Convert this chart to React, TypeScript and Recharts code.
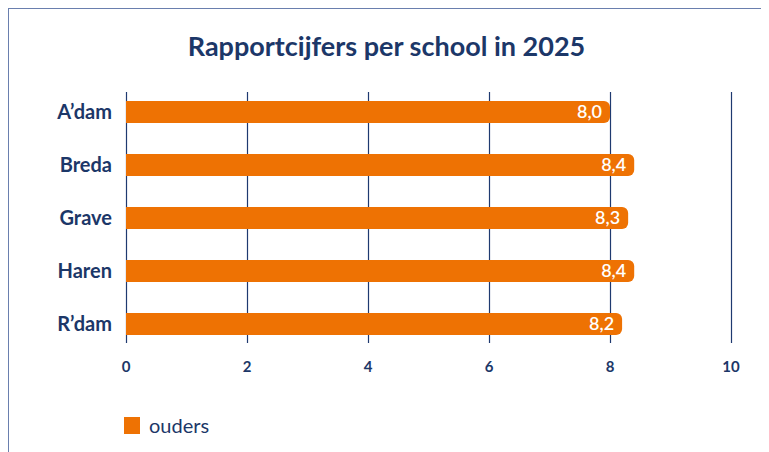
import { BarChart, Bar, XAxis, YAxis, CartesianGrid, LabelList } from "recharts"

const schools = ["A’dam", "Breda", "Grave", "Haren", "R’dam"]
const ouders = [8.0, 8.4, 8.3, 8.4, 8.2]
const xTicks = [0, 2, 4, 6, 8, 10]

const data = schools.map((name, i) => ({ name, ouders: ouders[i] }))

const navy = "#1c3768"
const orange = "#ee7203"
const font = "Lato, 'Open Sans', sans-serif"

const fmt = (v: any) => Number(v).toFixed(1).replace(".", ",")

// shorter grid lines than the plot area, like the original
const GridLine = (props: any) => (
  <line
    key={props.key}
    x1={Math.round(props.x1) + 0.5}
    x2={Math.round(props.x2) + 0.5}
    y1={props.y1 + 7}
    y2={props.y2 - 7}
    stroke="#1f3a70"
    strokeWidth={1.2}
  />
)

export default function App() {
  return (
    <div
      style={{
        position: "relative",
        width: 760,
        height: 443,
        marginLeft: -1,
        marginTop: -1,
        borderLeft: "2px solid #6a7fae",
        borderTop: "2px solid #6a7fae",
        fontFamily: font,
      }}
    >
      <div
        style={{
          position: "absolute",
          top: 21,
          left: 0,
          width: 755,
          textAlign: "center",
          fontSize: 27,
          fontWeight: 700,
          color: navy,
          lineHeight: "32px",
        }}
      >
        Rapportcijfers per school in 2025
      </div>
      <BarChart
        width={760}
        height={443}
        data={data}
        layout="vertical"
        margin={{ top: 76, right: 38, left: 0, bottom: 72 }}
      >
        <CartesianGrid horizontal={false} vertical={GridLine} />
        <XAxis
          type="number"
          domain={[0, 10]}
          ticks={xTicks}
          axisLine={false}
          tickLine={false}
          tickMargin={5}
          height={30}
          tick={{ fontSize: 15, fontWeight: 700, fill: navy, fontFamily: font }}
        />
        <YAxis
          type="category"
          dataKey="name"
          width={117}
          axisLine={false}
          tickLine={false}
          tickMargin={8}
          tick={{ fontSize: 20, fontWeight: 700, fill: navy, fontFamily: font }}
        />
        <Bar dataKey="ouders" fill={orange} barSize={22} radius={[0, 6, 6, 0]} isAnimationActive={false}>
          <LabelList
            dataKey="ouders"
            position="insideRight"
            offset={8}
            formatter={fmt}
            style={{ fill: "#ffffff", fontSize: 18, fontWeight: 600, fontFamily: font }}
          />
        </Bar>
      </BarChart>
      <div
        style={{
          position: "absolute",
          left: 115,
          top: 404,
          display: "flex",
          alignItems: "center",
          fontSize: 20,
          color: navy,
        }}
      >
        <span style={{ width: 16, height: 17, background: orange, display: "inline-block", marginRight: 9 }} />
        ouders
      </div>
    </div>
  )
}
